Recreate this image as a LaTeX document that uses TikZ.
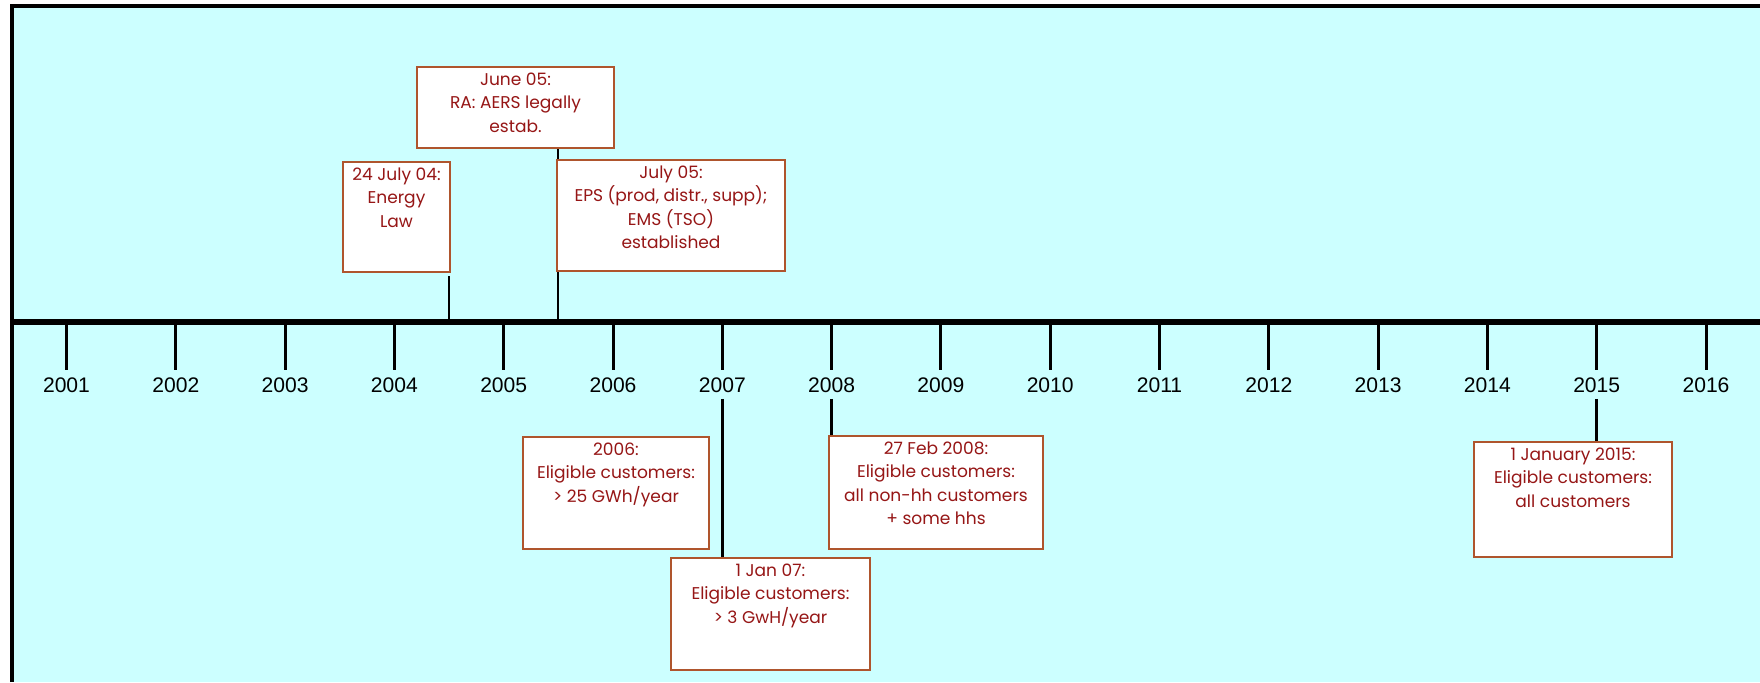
\documentclass[tikz,border=0pt]{standalone}
\usepackage{fontspec}
\setmainfont{Liberation Sans}
\newfontfamily\boxfont{Poppins}
\usetikzlibrary{positioning}
\definecolor{skycyan}{RGB}{204,255,255}
\definecolor{evred}{RGB}{150,22,22}
\definecolor{evframe}{RGB}{175,85,45}
\tikzset{
  evbox/.style={draw=evframe,line width=1pt,fill=white,inner sep=0pt},
  evtext/.style={text=evred,font=\boxfont\fontsize{9.7}{13.4}\selectfont,align=center,inner sep=0pt},
  yearlabel/.style={font=\fontsize{12}{14}\selectfont},
  yeartick/.style={line width=1.7pt},
  link/.style={line width=1.5pt}
}
\begin{document}
\begin{tikzpicture}[semithick]
\useasboundingbox(0,0)rectangle(35.2,13.64);
%background
\fill[skycyan](0.24,0)rectangle(35.2,13.52);
\draw[line width=2pt](0.24,0)--(0.24,13.52)--(35.2,13.52);
%axis
\coordinate (axl) at (0.24,7.2);
\coordinate (axr) at (35.2,7.2);
\draw[line width=3.4pt](axl)--(axr);
%ticks
\draw[yeartick](1.33,7.2)--(1.33,6.24);
\draw[yeartick](3.516,7.2)--(3.516,6.24);
\draw[yeartick](5.702,7.2)--(5.702,6.24);
\draw[yeartick](7.888,7.2)--(7.888,6.24);
\draw[yeartick](10.074,7.2)--(10.074,6.24);
\draw[yeartick](12.26,7.2)--(12.26,6.24);
\draw[yeartick](14.446,7.2)--(14.446,6.24);
\draw[yeartick](16.632,7.2)--(16.632,6.24);
\draw[yeartick](18.818,7.2)--(18.818,6.24);
\draw[yeartick](21.004,7.2)--(21.004,6.24);
\draw[yeartick](23.19,7.2)--(23.19,6.24);
\draw[yeartick](25.376,7.2)--(25.376,6.24);
\draw[yeartick](27.562,7.2)--(27.562,6.24);
\draw[yeartick](29.748,7.2)--(29.748,6.24);
\draw[yeartick](31.934,7.2)--(31.934,6.24);
\draw[yeartick](34.12,7.2)--(34.12,6.24);
%years
\node[yearlabel] (y2001) at (1.33,5.94) {2001};
\node[yearlabel] (y2002) at (3.516,5.94) {2002};
\node[yearlabel] (y2003) at (5.702,5.94) {2003};
\node[yearlabel] (y2004) at (7.888,5.94) {2004};
\node[yearlabel] (y2005) at (10.074,5.94) {2005};
\node[yearlabel] (y2006) at (12.26,5.94) {2006};
\node[yearlabel] (y2007) at (14.446,5.94) {2007};
\node[yearlabel] (y2008) at (16.632,5.94) {2008};
\node[yearlabel] (y2009) at (18.818,5.94) {2009};
\node[yearlabel] (y2010) at (21.004,5.94) {2010};
\node[yearlabel] (y2011) at (23.19,5.94) {2011};
\node[yearlabel] (y2012) at (25.376,5.94) {2012};
\node[yearlabel] (y2013) at (27.562,5.94) {2013};
\node[yearlabel] (y2014) at (29.748,5.94) {2014};
\node[yearlabel] (y2015) at (31.934,5.94) {2015};
\node[yearlabel] (y2016) at (34.12,5.94) {2016};
%events above the axis
\coordinate (jul04) at (8.98,7.2);
\coordinate (jun05) at (11.16,7.2);
\node[evbox,minimum width=3.94cm,minimum height=1.62cm] (june) at (10.31,11.49) {};
\draw[line width=1.1pt](jun05)--(jun05 |- june.south);
\node[evbox,minimum width=2.14cm,minimum height=2.2cm] (law) at (7.93,9.3) {};
\node[evbox,minimum width=4.56cm,minimum height=2.22cm] (july) at (13.42,9.33) {};
\draw[link](jul04)--([yshift=-0.06cm]jul04 |- law.south);
\node[evtext,below=0.12cm of june.north] {June 05:\\RA: AERS legally\\estab.};
\node[evtext,below=0.12cm of law.north] {24 July 04:\\Energy\\Law};
\node[evtext,below=0.12cm of july.north] {July 05:\\EPS (prod, distr., supp);\\EMS (TSO)\\established};
%events below the axis
\node[evbox,minimum width=3.72cm,minimum height=2.24cm] (el06) at (12.32,3.78) {};
\node[evbox,minimum width=3.98cm,minimum height=2.24cm] (jan07) at (15.41,1.36) {};
\node[evbox,minimum width=4.28cm,minimum height=2.26cm] (feb08) at (18.72,3.79) {};
\node[evbox,minimum width=3.96cm,minimum height=2.3cm] (jan15) at (31.46,3.65) {};
\draw[link](y2007.south)--(y2007.south |- jan07.north);
\draw[link](y2008.south)--(y2008.south |- feb08.north);
\draw[link](y2015.south)--(y2015.south |- jan15.north);
\node[evtext,below=0.12cm of el06.north] {2006:\\Eligible customers:\\> 25 GWh/year};
\node[evtext,below=0.12cm of jan07.north] {1 Jan 07:\\Eligible customers:\\> 3 GwH/year};
\node[evtext,below=0.12cm of feb08.north] {27 Feb 2008:\\Eligible customers:\\all non-hh customers\\+ some hhs};
\node[evtext,below=0.12cm of jan15.north] {1 January 2015:\\Eligible customers:\\all customers};
\end{tikzpicture}
\end{document}
